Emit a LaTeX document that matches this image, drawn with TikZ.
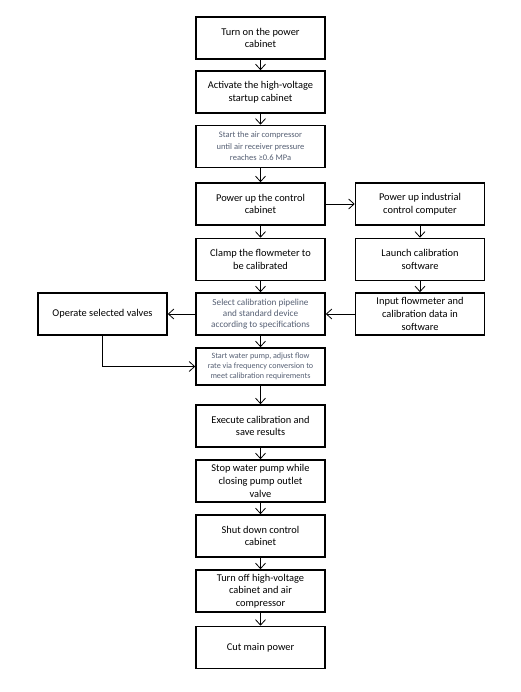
\documentclass[tikz,border=0pt]{standalone}
\usepackage{fontspec}
\setmainfont{Carlito}
\usetikzlibrary{arrows.meta}
\definecolor{smalltxt}{RGB}{85,95,115}
\begin{document}
\begin{tikzpicture}[x=1pt,y=-1pt,
  box/.style={draw,line width=1.6pt,minimum width=129pt,minimum height=42pt,align=center,inner sep=1pt,font=\fontsize{10.4}{12.6}\selectfont},
  sbox/.style={box,font=\fontsize{8.5}{11.5}\selectfont,text=smalltxt},
  mbox/.style={box,font=\fontsize{9.2}{11}\selectfont,text=smalltxt},
  tbox/.style={box,font=\fontsize{8.1}{10}\selectfont,text=smalltxt,minimum height=37pt},
  arr/.style={-{Straight Barb[length=5.5pt,width=10pt,line width=0.8pt]},line width=0.8pt}]
\useasboundingbox (0,0) rectangle (521,692);
\node[box] (b1) at (260.5,38) {Turn on the power\\cabinet};
\node[box] (b2) at (260.5,92) {Activate the high-voltage\\startup cabinet};
\node[sbox] (b3) at (260.5,146.5) {Start the air compressor\\until air receiver pressure\\reaches ≥0.6 MPa};
\node[box] (b4) at (260.5,204) {Power up the control\\cabinet};
\node[box] (b5) at (260.5,259.5) {Clamp the flowmeter to\\be calibrated};
\node[mbox] (b6) at (260.5,314) {Select calibration pipeline\\and standard device\\according to specifications};
\node[tbox] (b7) at (260.5,366.5) {Start water pump, adjust flow\\rate via frequency conversion to\\meet calibration requirements};
\node[box] (b8) at (260.5,426) {Execute calibration and\\save results};
\node[box] (b9) at (260.5,481) {Stop water pump while\\closing pump outlet\\valve};
\node[box] (b10) at (260.5,536) {Shut down control\\cabinet};
\node[box] (b11) at (260.5,591) {Turn off high-voltage\\cabinet and air\\compressor};
\node[box] (b12) at (260.5,647.5) {Cut main power};
\node[box] (r1) at (420,204) {Power up industrial\\control computer};
\node[box] (r2) at (420,259.5) {Launch calibration\\software};
\node[box] (r3) at (420,314) {Input flowmeter and\\calibration data in\\software};
\node[box] (l1) at (102.5,314) {Operate selected valves};
\foreach \a/\b in {b1/b2,b2/b3,b3/b4,b4/b5,b5/b6,b6/b7,b7/b8,b8/b9,b9/b10,b10/b11,b11/b12,r1/r2,r2/r3}
  \draw[arr] (\a) -- (\b);
\draw[arr] (b4) -- (r1);
\draw[arr] (r3) -- (b6);
\draw[arr] (b6) -- (l1);
\draw[arr] (l1.south) |- (b7.west);
\end{tikzpicture}
\end{document}
